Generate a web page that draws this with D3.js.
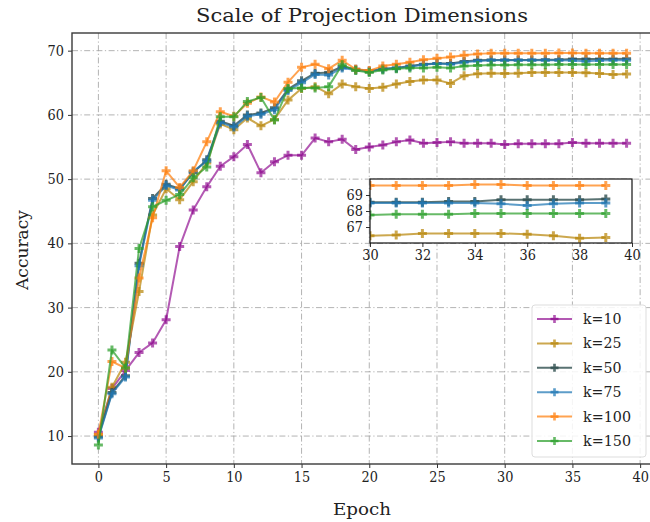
<!DOCTYPE html>
<html><head><meta charset="utf-8">
<script src="https://cdn.jsdelivr.net/npm/d3@7"></script>
<style>body{margin:0;background:#fff}svg{display:block}text{font-family:"DejaVu Serif",serif;fill:#222}</style>
</head><body><svg id="c" width="650" height="522"></svg>
<script>
const epochs = d3.range(0, 40);
const seriesNames = ["k=10","k=25","k=50","k=75","k=100","k=150"];
const seriesColors = ["#8b008b","#b8860b","#2f4f4f","#1f77b4","#ff7f0e","#2ca02c"];
const k10 = [10.6,17.4,20.2,23.0,24.5,28.1,39.5,45.2,48.8,52.0,53.5,55.4,51.0,52.7,53.7,53.7,56.4,55.8,56.2,54.6,55.0,55.3,55.8,56.1,55.6,55.7,55.8,55.6,55.6,55.6,55.4,55.5,55.5,55.5,55.5,55.7,55.6,55.6,55.6,55.6];
const k25 = [10.2,17.6,21.5,32.5,44.4,48.5,46.8,49.6,52.5,58.6,57.7,59.5,58.3,59.3,62.3,64.1,64.4,63.3,64.8,64.4,64.1,64.3,64.8,65.2,65.45,65.45,64.9,66.1,66.4,66.5,66.45,66.5,66.6,66.6,66.6,66.6,66.55,66.45,66.3,66.35];
const k50 = [9.9,16.8,19.4,36.9,47.0,49.2,48.5,51.0,53.0,59.0,58.3,60.0,60.3,61.1,64.0,65.3,66.5,66.6,67.5,67.1,66.8,67.2,67.3,67.6,67.9,68.0,68.0,68.3,68.5,68.55,68.55,68.55,68.55,68.6,68.6,68.7,68.7,68.7,68.7,68.75];
const k75 = [9.7,16.6,19.2,36.5,46.7,49.0,48.3,51.2,52.8,58.8,58.1,59.8,60.1,60.8,63.8,65.0,66.3,66.2,67.3,67.0,66.8,67.1,67.3,67.5,67.8,68.0,67.9,68.2,68.4,68.5,68.5,68.5,68.5,68.5,68.5,68.45,68.35,68.45,68.5,68.5];
const k100 = [10.3,21.6,20.6,34.6,44.0,51.3,48.7,51.3,55.8,60.5,59.8,61.8,62.8,62.0,65.1,67.4,67.9,67.2,68.5,67.1,66.9,67.6,67.9,68.2,68.6,68.8,69.0,69.3,69.5,69.6,69.6,69.6,69.6,69.6,69.65,69.65,69.6,69.6,69.6,69.6];
const k150 = [8.6,23.4,20.6,39.2,45.7,46.7,47.6,50.2,51.9,59.7,59.7,62.1,62.7,59.2,64.1,64.2,64.2,64.4,67.8,66.9,66.6,67.0,67.2,67.3,67.3,67.4,67.3,67.6,67.7,67.75,67.75,67.8,67.8,67.8,67.85,67.85,67.85,67.85,67.85,67.85];
const allSeries = [k10,k25,k50,k75,k100,k150];
const xTicks = [0,5,10,15,20,25,30,35,40];
const yTicks = [10,20,30,40,50,60,70];
const insetXTicks = [30,32,34,36,38,40];
const insetYTicks = [67,68,69];

const svg = d3.select("#c");
const L=72, R=653, T=33, B=464;
const x = d3.scaleLinear().domain([-1.95,40.95]).range([L,R]);
const y = d3.scaleLinear().domain([5.65,72.75]).range([B,T]);
const ALPHA = 0.72;
const alphas = [0.65,0.72,0.8,0.72,0.72,0.72];

// grid
const grid = svg.append("g");
xTicks.forEach(t=>grid.append("line").attr("x1",x(t)).attr("x2",x(t)).attr("y1",T).attr("y2",B)
  .attr("stroke","#a0a0a0").attr("stroke-width",0.8).attr("stroke-dasharray","6,2.5,1.2,2.5"));
yTicks.forEach(t=>grid.append("line").attr("x1",L).attr("x2",R).attr("y1",y(t)).attr("y2",y(t))
  .attr("stroke","#a0a0a0").attr("stroke-width",0.8).attr("stroke-dasharray","6,2.5,1.2,2.5"));

const crossPath = (s)=>{const a=s/2,b=s/6;return `M${-b},${-a}H${b}V${-b}H${a}V${b}H${b}V${a}H${-b}V${b}H${-a}V${-b}H${-b}Z`;};

function drawSeries(g, xs, ys, msize, lw){
  allSeries.forEach((vals,i)=>{
    const line = d3.line().x((d,j)=>xs(epochs[j])).y(d=>ys(d));
    const sg = g.append("g");
    sg.append("path").attr("d",line(vals)).attr("fill","none").attr("stroke",seriesColors[i])
      .attr("stroke-width",lw).attr("stroke-opacity",alphas[i]).attr("stroke-linejoin","round");
    sg.selectAll("path.m").data(vals).enter().append("path").attr("class","m")
      .attr("transform",(d,j)=>`translate(${xs(epochs[j])},${ys(d)})`)
      .attr("d",crossPath(msize)).attr("fill",seriesColors[i]).attr("fill-opacity",alphas[i]);
  });
}
svg.append("defs").append("clipPath").attr("id","mainclip").append("rect").attr("x",L).attr("y",T).attr("width",R-L).attr("height",B-T);
drawSeries(svg.append("g").attr("clip-path","url(#mainclip)"), x, y, 9, 2);

function styleAxis(a){a.select(".domain").remove();a.selectAll("text").style("font-family","DejaVu Serif").style("font-size","14px").attr("fill","#222");a.selectAll("line").attr("stroke","#333");}
const ax = svg.append("g").attr("transform",`translate(0,${B})`).call(d3.axisBottom(x).tickValues(xTicks).tickSize(4).tickPadding(4));
const ay = svg.append("g").attr("transform",`translate(${L},0)`).call(d3.axisLeft(y).tickValues(yTicks).tickSize(4).tickPadding(4));
styleAxis(ax); styleAxis(ay);
ax.selectAll("text").attr("textLength",function(){return this.textContent.length*8.2;}).attr("lengthAdjust","spacingAndGlyphs");
ay.selectAll("text").attr("textLength",function(){return this.textContent.length*8.2;}).attr("lengthAdjust","spacingAndGlyphs");
svg.append("rect").attr("x",L).attr("y",T).attr("width",R-L).attr("height",B-T).attr("fill","none").attr("stroke","#3a3a3a").attr("stroke-width",1.4);

svg.append("text").attr("x",362).attr("y",22).attr("text-anchor","middle").style("font-size","19px")
  .attr("textLength",332).attr("lengthAdjust","spacingAndGlyphs").text("Scale of Projection Dimensions");
svg.append("text").attr("x",362).attr("y",515).attr("text-anchor","middle").style("font-size","17px")
  .attr("textLength",58).attr("lengthAdjust","spacingAndGlyphs").text("Epoch");
svg.append("text").attr("transform","translate(28,250) rotate(-90)").attr("text-anchor","middle").style("font-size","17px")
  .attr("textLength",80).attr("lengthAdjust","spacingAndGlyphs").text("Accuracy");

// inset
const iL=370, iR=632, iT=179, iB=243;
const xi = d3.scaleLinear().domain([30,40]).range([iL,iR]);
const yi = d3.scaleLinear().domain([66,70]).range([iB,iT]);
svg.append("rect").attr("x",iL).attr("y",iT).attr("width",iR-iL).attr("height",iB-iT).attr("fill","#fff");
svg.append("defs").append("clipPath").attr("id","insclip").append("rect").attr("x",iL).attr("y",iT).attr("width",iR-iL).attr("height",iB-iT);
drawSeries(svg.append("g").attr("clip-path","url(#insclip)"), xi, yi, 9, 2);
const ix = svg.append("g").attr("transform",`translate(0,${iB})`).call(d3.axisBottom(xi).tickValues(insetXTicks).tickSize(4).tickPadding(3).tickFormat(d3.format("d")));
const iy = svg.append("g").attr("transform",`translate(${iL},0)`).call(d3.axisLeft(yi).tickValues(insetYTicks).tickSize(4).tickPadding(3).tickFormat(d3.format("d")));
styleAxis(ix); styleAxis(iy);
ix.selectAll("text").attr("textLength",function(){return this.textContent.length*8.2;}).attr("lengthAdjust","spacingAndGlyphs");
iy.selectAll("text").attr("textLength",function(){return this.textContent.length*8.2;}).attr("lengthAdjust","spacingAndGlyphs");
svg.append("rect").attr("x",iL).attr("y",iT).attr("width",iR-iL).attr("height",iB-iT).attr("fill","none").attr("stroke","#111").attr("stroke-width",1.2);

// legend
const lg = svg.append("g");
lg.append("rect").attr("x",532).attr("y",305).attr("width",114).attr("height",152).attr("rx",3)
  .attr("fill","#fff").attr("fill-opacity",0.85).attr("stroke","#ddd").attr("stroke-width",1);
seriesNames.forEach((n,i)=>{
  const yy = 319 + i*24.4;
  lg.append("line").attr("x1",537).attr("x2",572).attr("y1",yy).attr("y2",yy).attr("stroke",seriesColors[i]).attr("stroke-width",2).attr("stroke-opacity",alphas[i]);
  lg.append("path").attr("transform",`translate(554.5,${yy})`).attr("d",crossPath(8)).attr("fill",seriesColors[i]).attr("fill-opacity",alphas[i]);
  lg.append("text").attr("x",583).attr("y",yy+5).style("font-size","15px")
    .attr("textLength",n.length*9.6).attr("lengthAdjust","spacingAndGlyphs").text(n);
});
</script></body></html>
